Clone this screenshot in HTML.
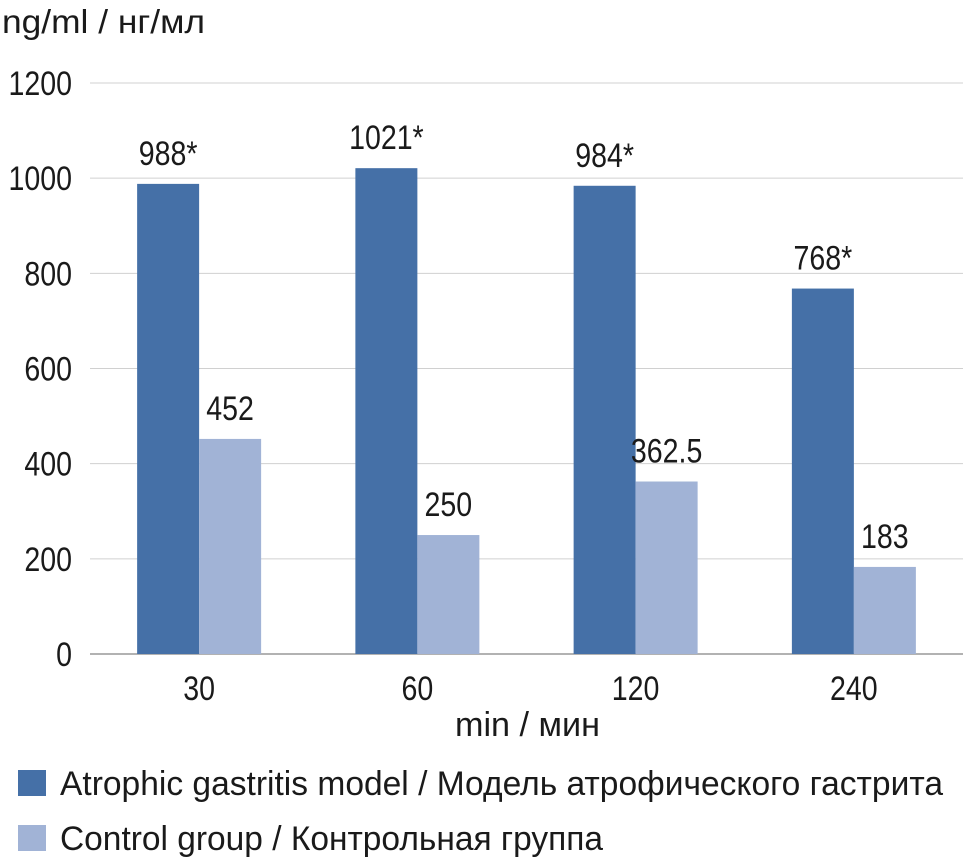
<!DOCTYPE html>
<html><head><meta charset="utf-8"><style>
body{margin:0;background:#fff}
svg text{font-family:"Liberation Sans Narrow","Liberation Sans",sans-serif;fill:#1a1a1a}
.c{transform-box:fill-box;transform-origin:center;transform:scaleX(.84)}
.r{transform-box:fill-box;transform-origin:right;transform:scaleX(.84)}
</style></head><body>
<svg id="chart" width="963" height="861" xmlns="http://www.w3.org/2000/svg">
<text x="2" y="33" font-size="33" textLength="203" lengthAdjust="spacingAndGlyphs">ng/ml / нг/мл</text>
<g id="grid"></g><g id="bars"></g><g id="labels"></g>
<text x="455" y="736" font-size="34" textLength="145" lengthAdjust="spacingAndGlyphs">min / мин</text>
<rect x="18" y="770" width="28" height="26" fill="#4570a7"/>
<text x="60" y="795" font-size="34" textLength="883" lengthAdjust="spacingAndGlyphs">Atrophic gastritis model / Модель атрофического гастрита</text>
<rect x="18" y="825" width="28" height="26" fill="#a1b3d6"/>
<text x="60" y="850" font-size="34" textLength="543" lengthAdjust="spacingAndGlyphs">Control group / Контрольная группа</text>
</svg>
<script>
const categories=["30","60","120","240"];
const atrophic=[988,1021,984,768];
const control=[452,250,362.5,183];
const atrophicLabels=["988*","1021*","984*","768*"];
const controlLabels=["452","250","362.5","183"];
const ticks=[0,200,400,600,800,1000,1200];
const NS="http://www.w3.org/2000/svg";
const x0=90,x1=963,y0=654,yTop=83,maxV=1200;
const y=v=>y0-(y0-yTop)*v/maxV;
const bw=(x1-x0)/categories.length;
const cx=i=>x0+bw*(i+0.5);
function mk(tag,attrs,parent,txt){const e=document.createElementNS(NS,tag);for(const k in attrs)e.setAttribute(k,attrs[k]);if(txt!==undefined)e.textContent=txt;parent.appendChild(e);return e;}
const grid=document.getElementById('grid'),bars=document.getElementById('bars'),labels=document.getElementById('labels');
ticks.forEach(t=>{
  if(t>0){const l=mk('line',{x1:x0,x2:x1,y1:y(t),y2:y(t),stroke:'#d0d0d0','stroke-width':1},grid);
  
  }
  const tx=mk('text',{x:72,y:y(t)+12,'font-size':34,'text-anchor':'end','class':'r'},grid,String(t));
  
  
});
const ax=mk('line',{x1:x0,x2:x1,y1:y0,y2:y0,stroke:'#999','stroke-width':1.5},grid);


const w=62;
categories.forEach((c,i)=>{
  const c0=cx(i);
  const b1=mk('rect',{x:c0-w,y:y(atrophic[i]),width:w,height:y0-y(atrophic[i]),fill:'#4570a7'},bars);
  
  
  const b2=mk('rect',{x:c0,y:y(control[i]),width:w,height:y0-y(control[i]),fill:'#a1b3d6'},bars);
  
  
  const l1=mk('text',{x:c0-w/2,y:y(atrophic[i])-19,'font-size':34,'text-anchor':'middle','class':'c'},labels,atrophicLabels[i]);
  
  
  const l2=mk('text',{x:c0+w/2,y:y(control[i])-19,'font-size':34,'text-anchor':'middle','class':'c'},labels,controlLabels[i]);
  
  
  const xl=mk('text',{x:c0,y:700,'font-size':34,'text-anchor':'middle','class':'c'},labels,c);
  
  
});
</script>
</body></html>
